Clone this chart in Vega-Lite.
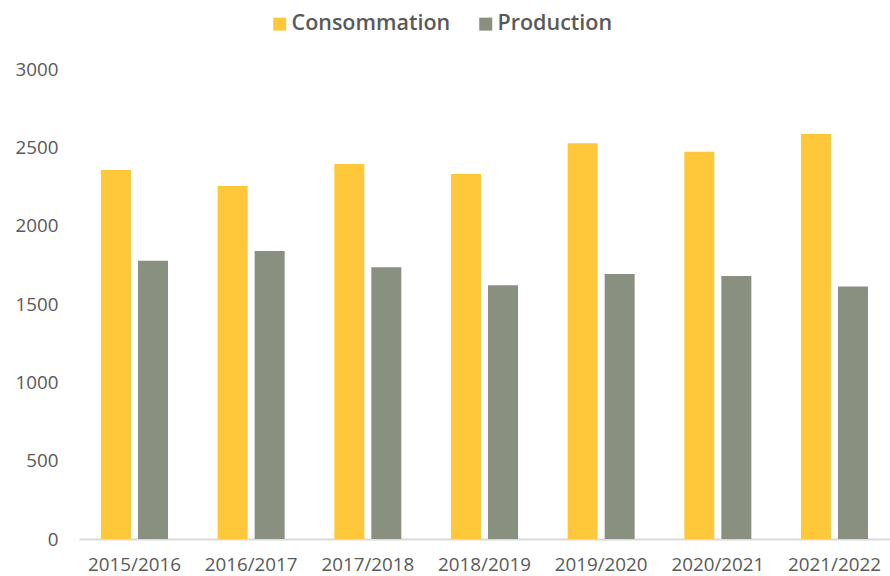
{
  "$schema": "https://vega.github.io/schema/vega-lite/v6.json",
  "width": 811,
  "height": 470,
  "autosize": {"type": "none"},
  "padding": {"left": 79, "top": 69, "right": 0, "bottom": 37},
  "background": "white",
  "data": {
    "values": [
      {"annee": "2015/2016", "serie": "Consommation", "valeur": 2355},
      {"annee": "2015/2016", "serie": "Production", "valeur": 1776},
      {"annee": "2016/2017", "serie": "Consommation", "valeur": 2253},
      {"annee": "2016/2017", "serie": "Production", "valeur": 1838},
      {"annee": "2017/2018", "serie": "Consommation", "valeur": 2394},
      {"annee": "2017/2018", "serie": "Production", "valeur": 1734},
      {"annee": "2018/2019", "serie": "Consommation", "valeur": 2330},
      {"annee": "2018/2019", "serie": "Production", "valeur": 1619},
      {"annee": "2019/2020", "serie": "Consommation", "valeur": 2526},
      {"annee": "2019/2020", "serie": "Production", "valeur": 1691},
      {"annee": "2020/2021", "serie": "Consommation", "valeur": 2472},
      {"annee": "2020/2021", "serie": "Production", "valeur": 1679},
      {"annee": "2021/2022", "serie": "Consommation", "valeur": 2585},
      {"annee": "2021/2022", "serie": "Production", "valeur": 1612}
    ]
  },
  "mark": {"type": "bar"},
  "encoding": {
    "x": {
      "field": "annee",
      "type": "nominal",
      "sort": null,
      "scale": {"paddingInner": 0.4257, "paddingOuter": 0.1885},
      "axis": {
        "title": null,
        "labelAngle": 0,
        "labelFont": "Open Sans",
        "labelFontSize": 18.8,
        "labelColor": "#595959",
        "labelPadding": 16,
        "ticks": false,
        "domainColor": "#D9D9D9",
        "domainWidth": 2
      }
    },
    "xOffset": {
      "field": "serie",
      "type": "nominal",
      "scale": {"paddingInner": 0.189, "paddingOuter": 0}
    },
    "y": {
      "field": "valeur",
      "type": "quantitative",
      "scale": {"domain": [0, 3000], "nice": false},
      "axis": {
        "title": null,
        "values": [0, 500, 1000, 1500, 2000, 2500, 3000],
        "format": "d",
        "grid": false,
        "domain": false,
        "ticks": false,
        "labelFont": "Open Sans",
        "labelFontSize": 18.8,
        "labelColor": "#595959",
        "labelPadding": 21
      }
    },
    "color": {
      "field": "serie",
      "type": "nominal",
      "scale": {"domain": ["Consommation", "Production"], "range": ["#FFC83A", "#8A9080"]},
      "legend": {
        "title": null,
        "orient": "none",
        "direction": "horizontal",
        "legendX": 190,
        "legendY": -56,
        "symbolType": "square",
        "symbolSize": 169,
        "symbolStrokeWidth": 0,
        "labelFont": "Open Sans",
        "labelFontSize": 21.5,
        "labelFontWeight": 600,
        "labelColor": "#595959",
        "labelOffset": 1,
        "columnPadding": 24,
        "padding": 0
      }
    }
  },
  "config": {"view": {"stroke": null}}
}
